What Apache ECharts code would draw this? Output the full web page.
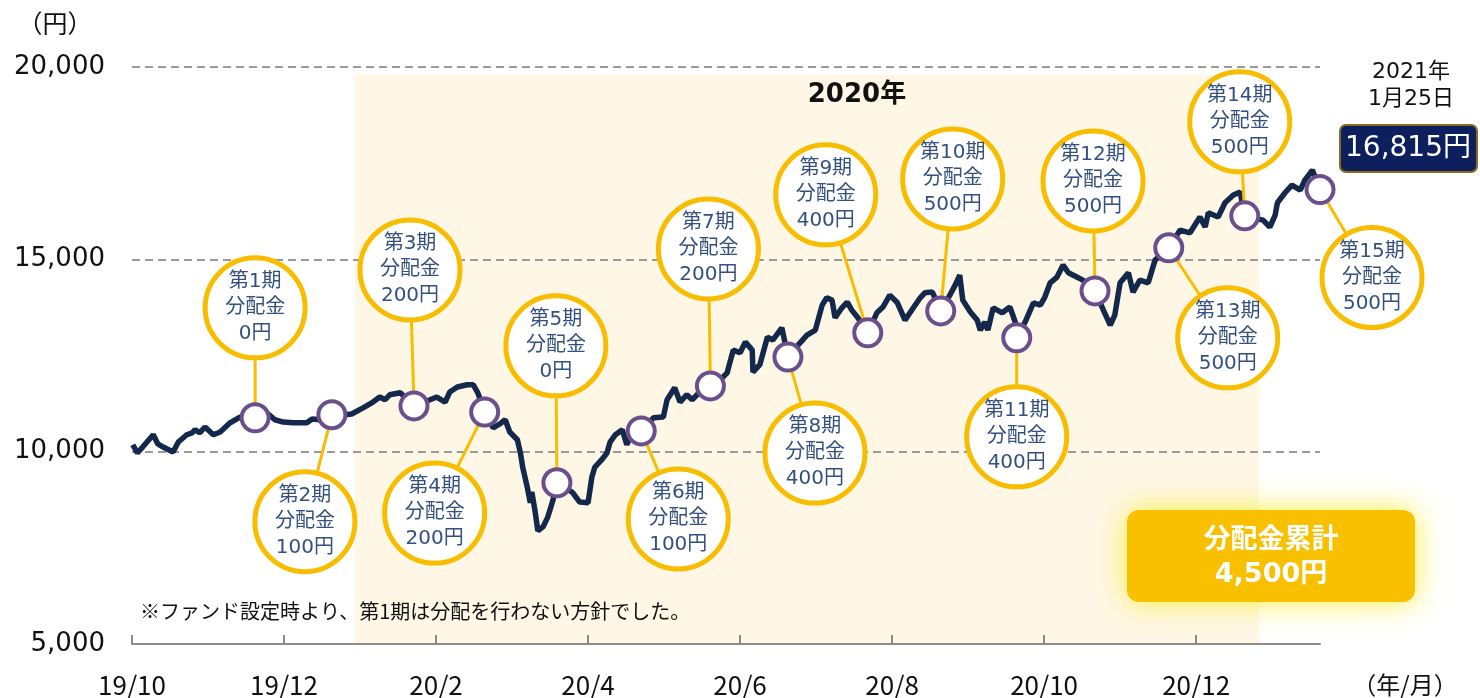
<!DOCTYPE html>
<html lang="ja">
<head>
<meta charset="UTF-8">
<title>基準価額と分配金</title>
<script src="https://cdn.jsdelivr.net/npm/echarts@6/dist/echarts.min.js"></script>
<style>
  html, body { margin: 0; padding: 0; background: #fff; }
  #main { width: 1480px; height: 698px; }
</style>
</head>
<body>
<div id="main"></div>
<script type="text/javascript">
// x は 2019年10月からの経過月数
var tickLabels = ['19/10', '19/12', '20/2', '20/4', '20/6', '20/8', '20/10', '20/12'];

var navMonths = [0.01,0.07,0.14,0.28,0.34,0.41,0.54,0.61,0.72,0.79,
    0.83,0.89,0.96,1.07,1.16,1.29,1.42,1.62,1.79,1.88,
    1.99,2.12,2.30,2.37,2.47,2.63,2.80,2.89,3.04,3.17,
    3.26,3.33,3.39,3.53,3.71,3.92,4.01,4.12,4.18,4.28,
    4.41,4.49,4.55,4.64,4.75,4.84,4.91,4.97,5.07,5.11,
    5.14,5.20,5.24,5.26,5.30,5.34,5.41,5.47,5.54,5.59,
    5.70,5.80,5.89,6.00,6.05,6.09,6.18,6.25,6.29,6.36,
    6.45,6.51,6.58,6.70,6.86,6.99,7.04,7.14,7.21,7.30,
    7.37,7.47,7.61,7.74,7.83,7.91,8.00,8.07,8.16,8.17,
    8.26,8.36,8.43,8.55,8.63,8.79,8.88,8.99,9.08,9.14,
    9.21,9.25,9.34,9.41,9.47,9.55,9.68,9.80,9.88,9.97,
    10.07,10.17,10.28,10.37,10.43,10.53,10.64,10.76,10.83,10.89,
    10.93,11.03,11.12,11.16,11.22,11.26,11.33,11.45,11.55,11.62,
    11.64,11.75,11.86,11.95,12.01,12.08,12.17,12.25,12.32,12.43,
    12.51,12.67,12.78,12.87,12.93,13.00,13.11,13.17,13.26,13.37,
    13.46,13.64,13.79,13.92,14.05,14.12,14.16,14.29,14.38,14.49,
    14.58,14.64,14.88,14.97,15.04,15.07,15.17,15.26,15.37,15.43,
    15.53,15.63];

var navValues = [10180,9970,10120,10440,10200,10120,9990,10250,10440,10490,
    10570,10490,10640,10440,10510,10750,10900,10880,10980,10830,
    10770,10750,10750,10850,10830,10960,10960,10980,11140,11290,
    11420,11350,11480,11530,11190,11350,11420,11290,11550,11680,
    11740,11740,11530,11030,10620,10720,10830,10510,10310,9970,
    9600,9080,8670,8950,8490,7940,8050,8300,8750,9190,
    9060,8930,8690,8670,9340,9600,9790,9970,10250,10440,
    10570,10180,10490,10540,10880,10900,11350,11660,11290,11480,
    11350,11550,11710,11870,12050,12640,12570,12850,12640,12070,
    12260,12980,12900,13220,12460,12830,13030,13160,13810,14000,
    13940,13480,13740,13890,13680,13480,13090,13610,13760,14070,
    13870,13420,13740,14000,14130,14150,13660,14070,14330,14590,
    13940,13630,13420,13160,13370,13160,13740,13610,13760,13370,
    12960,13370,13870,13810,14020,14390,14540,14850,14650,14540,
    14460,14180,13680,13290,13550,14390,14650,14150,14460,14390,
    14980,15300,15760,15690,16100,15840,16210,16100,16470,16670,
    16750,16130,16020,15840,16150,16470,16730,16930,16800,17060,
    17320,16815];

// 分配日の基準価額と分配金
var payoutMonths = [1.62,2.63,3.71,4.64,5.59,6.70,7.61,8.63,9.68,10.64,11.64,12.67,13.64,14.64,15.63];
var payoutNav = [10880,10960,11190,11030,9190,10540,11710,12460,13090,13660,12960,14180,15300,16130,16815];
var payoutAmounts = [0,100,200,200,0,100,200,400,400,500,400,500,500,500,500];

// 吹き出しの位置（マーカーからのずれ, px）
var calloutOffsets = [[0,-110],[-27,107],[-4,-136],[-50,101],[-1,-137],[37,88],[-2,-137],[27,96],
    [-42,-138],[12,-132],[0,99],[-2,-110],[59,90],[-5,-94],[52,88]];

var year2020 = [2.93, 14.83];

var FONT = "'DejaVu Sans', 'Noto Sans CJK JP', sans-serif";
var JP = "'Noto Sans CJK JP', sans-serif";

var myChart = echarts.init(document.getElementById('main'));

var totalPayout = payoutAmounts.reduce(function (a, b) { return a + b; }, 0);
var lastNav = payoutNav[payoutNav.length - 1];

myChart.setOption({
    animation: false,
    grid: { left: 132, right: 160, top: 67, bottom: 54, containLabel: false, outerBoundsMode: 'none' },
    xAxis: {
        type: 'value',
        min: 0,
        max: 15.63,
        interval: 2,
        z: 1,
        splitLine: { show: false },
        axisLine: { lineStyle: { color: '#8c8c8c', width: 2 } },
        axisTick: { show: true, inside: true, length: 9, lineStyle: { color: '#8c8c8c', width: 2 },
            customValues: [0, 2, 4, 6, 8, 10, 12, 14] },
        axisLabel: {
            customValues: [0, 2, 4, 6, 8, 10, 12, 14],
            margin: 28,
            fontSize: 26,
            fontFamily: JP,
            color: '#111',
            formatter: function (v) { return tickLabels[Math.round(v / 2)] || ''; }
        }
    },
    yAxis: {
        type: 'value',
        min: 5000,
        max: 20000,
        interval: 5000,
        z: 1,
        axisLine: { show: false },
        axisTick: { show: false },
        axisLabel: {
            margin: 27,
            fontSize: 26,
            fontFamily: FONT,
            color: '#111',
            formatter: function (v) { return v.toLocaleString('en-US'); }
        },
        splitLine: { lineStyle: { color: '#9a9a9a', width: 2, type: [8, 5] } }
    },
    series: [
        {
            // 2020年の背景（軸より下に描く）
            type: 'line',
            data: [],
            z: 0,
            silent: true,
            markArea: {
                silent: true,
                z: 0,
                itemStyle: { color: '#fef7e6' },
                label: {
                    show: true, position: 'insideTop', distance: 8, offset: [50, 0],
                    fontSize: 26, fontWeight: 'bold', fontFamily: FONT, color: '#111'
                },
                data: [[{ name: '2020年', xAxis: year2020[0], yAxis: 5000 }, { xAxis: year2020[1], yAxis: 19800 }]]
            }
        },
        {
            type: 'line',
            data: navMonths.map(function (m, i) { return [m, navValues[i]]; }),
            showSymbol: false,
            lineStyle: { color: '#13284a', width: 5.5 },
            z: 2
        },
        {
            type: 'custom',
            z: 3,
            data: payoutMonths.map(function (m, i) { return [m, payoutNav[i]]; }),
            renderItem: function (params, api) {
                var i = params.dataIndex;
                var p = api.coord([api.value(0), api.value(1)]);
                var off = calloutOffsets[i];
                var c = [p[0] + off[0], p[1] + off[1]];
                return {
                    type: 'group',
                    children: [
                        { type: 'line', shape: { x1: p[0], y1: p[1], x2: c[0], y2: c[1] },
                          style: { stroke: '#f8bd00', lineWidth: 3 } },
                        { type: 'circle', shape: { cx: c[0], cy: c[1], r: 50 },
                          style: { fill: '#fff', stroke: '#f8bd00', lineWidth: 5 } },
                        { type: 'text', x: c[0], y: c[1],
                          style: { text: '第' + (i + 1) + '期\n分配金\n' + payoutAmounts[i] + '円',
                                   fill: '#33507f', font: '20px ' + FONT, align: 'center',
                                   verticalAlign: 'middle', lineHeight: 26 } }
                    ]
                };
            }
        },
        {
            type: 'scatter',
            z: 4,
            clip: false,
            data: payoutMonths.map(function (m, i) { return [m, payoutNav[i]]; }),
            symbolSize: 27,
            itemStyle: { color: '#fff', borderColor: '#6b4f8c', borderWidth: 4, opacity: 1 }
        }
    ],
    graphic: [
        { type: 'text', z: 100, x: 55, y: 23, style: { text: '（円）', font: '25px ' + JP, fill: '#111', align: 'center', verticalAlign: 'middle' } },
        { type: 'text', z: 100, x: 1405, y: 685, style: { text: '（年/月）', font: '24px ' + JP, fill: '#111', align: 'center', verticalAlign: 'middle' } },
        { type: 'text', z: 100, x: 140, y: 611, style: { text: '※ファンド設定時より、第1期は分配を行わない方針でした。', font: '20px ' + JP, fill: '#111', align: 'left', verticalAlign: 'middle' } },
        { type: 'text', z: 100, x: 1411, y: 86, style: { text: '2021年\n1月25日', font: '22px ' + FONT, fill: '#111', align: 'center', verticalAlign: 'middle', lineHeight: 27 } },
        { type: 'rect', z: 100, shape: { x: 1340, y: 125, width: 137, height: 47, r: 6 }, style: { fill: '#0d1f5c', stroke: '#8a6a1e', lineWidth: 2 } },
        { type: 'text', z: 101, x: 1408, y: 149, style: { text: lastNav.toLocaleString('en-US') + '円', font: '28px ' + FONT, fill: '#fff', align: 'center', verticalAlign: 'middle' } },
        { type: 'rect', z: 100, shape: { x: 1127, y: 510, width: 288, height: 92, r: 12 },
          style: { fill: '#f9c000', shadowBlur: 30, shadowColor: '#ffec3a' } },
        { type: 'text', z: 101, x: 1271, y: 558, style: { text: '分配金累計\n' + totalPayout.toLocaleString('en-US') + '円', font: 'bold 27px ' + FONT, fill: '#fff', align: 'center', verticalAlign: 'middle', lineHeight: 34 } }
    ]
});
</script>
</body>
</html>
